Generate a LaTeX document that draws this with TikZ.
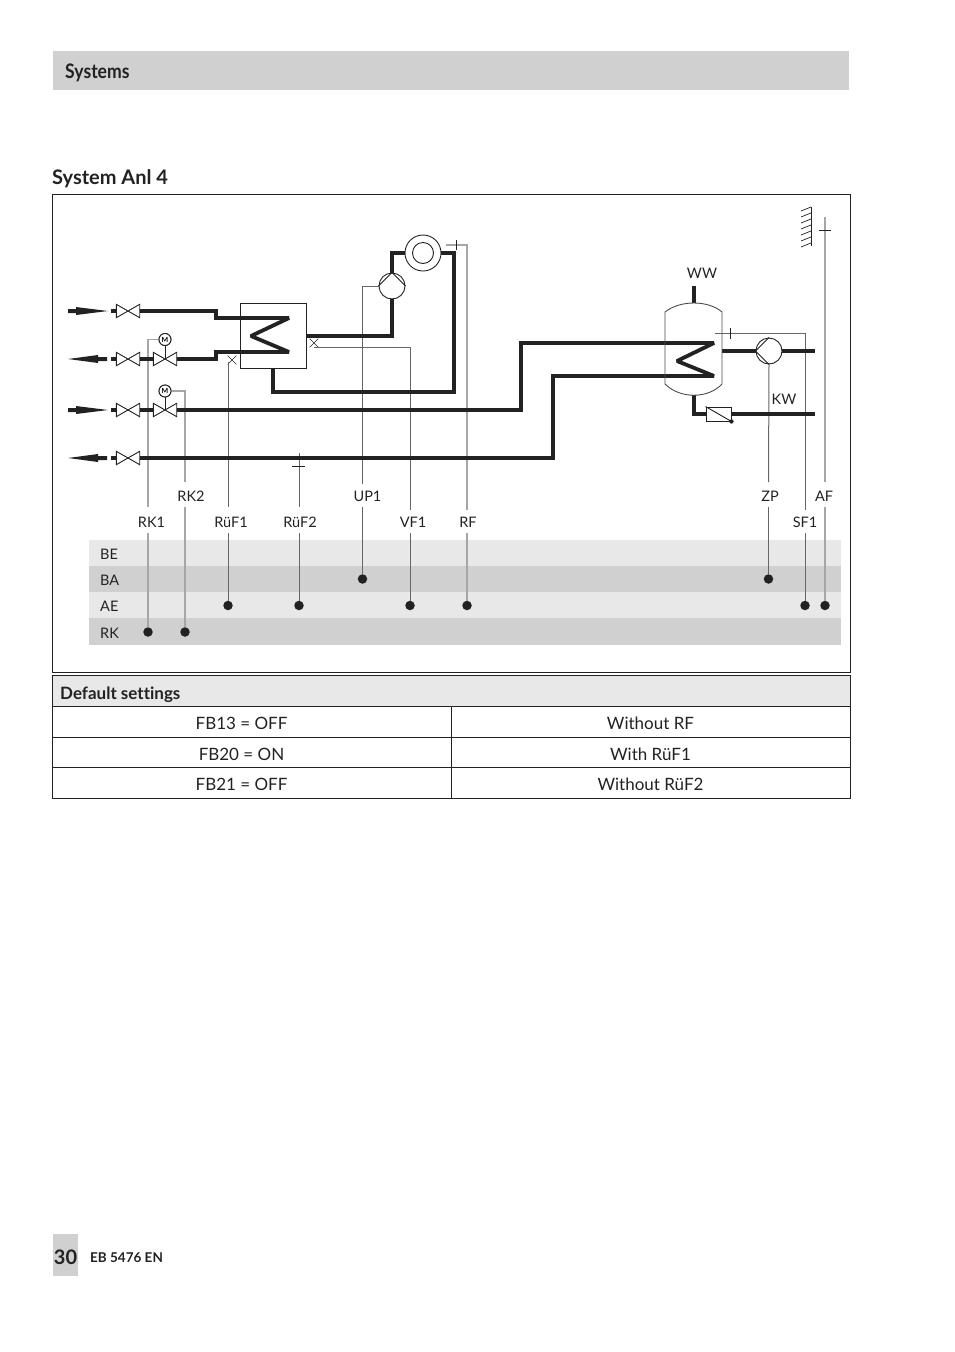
\documentclass[tikz,border=0pt]{standalone}
\usepackage{fontspec}
\usepackage{tikz}
\usetikzlibrary{positioning,shapes.misc}
\setmainfont[Ligatures=NoCommon]{Lato}
\newfontfamily\narrowfont[FakeStretch=0.88]{Lato}
\definecolor{bandlight}{HTML}{E8E8E8}
\definecolor{banddark}{HTML}{D0D0D0}
\definecolor{inkblack}{HTML}{222222}
\tikzset{
    pipe/.style = {line width=3.8pt, draw=inkblack, line join=miter, miter limit=2},
    sigdark/.style = {line width=1pt, draw=black!60},
    siglight/.style = {line width=1.4pt, draw=black!35},
    thin line/.style = {line width=.9pt, draw=inkblack},
    valve/.style = {minimum width=23pt, minimum height=13pt, inner sep=0pt},
    pump/.style = {circle, draw=inkblack, line width=.9pt, fill=white, minimum size=26pt, inner sep=0pt},
    motor/.style = {circle, draw=inkblack, line width=.9pt, fill=white, minimum size=12pt, inner sep=0pt,
        font=\fontsize{7}{7}\selectfont\bfseries},
    xsensor/.style = {cross out, draw=inkblack, line width=.6pt, minimum size=8pt, inner sep=0pt},
    dot/.style = {circle, fill=inkblack, minimum size=9.5pt, inner sep=0pt},
    tag/.style = {font=\fontsize{14.5}{14.5}\selectfont, text=inkblack, inner sep=0pt},
    band/.style = {minimum width=752pt, minimum height=26.4pt, inner sep=0pt, anchor=west},
    cell/.style = {draw=inkblack, line width=1pt, minimum height=30.5pt, inner sep=0pt},
    celltext/.style = {font=\fontsize{17}{17}\selectfont, text=inkblack, inner sep=0pt,
        text height=13pt, text depth=4pt},
    head/.style = {font=\fontsize{20}{20}\selectfont\bfseries, text=inkblack, inner sep=0pt, anchor=west},
}
\begin{document}
\begin{tikzpicture}[x=1pt, y=-1pt]
    \useasboundingbox (0,0) rectangle (954,1352);
    % page furniture
    \node (topbar) [fill=banddark, minimum width=796pt, minimum height=39pt, inner sep=0pt] at (451,70.5) {};
    \node (toptext) [head, font=\fontsize{20}{20}\narrowfont\bfseries] at (65,73) {Systems};
    \node (title) [head] at (52,179) {System Anl 4};
    \node (frame) [draw=inkblack, line width=1pt, minimum width=798pt, minimum height=478pt, inner sep=0pt] at (451.5,433) {};
    \node (numbox) [fill=banddark, minimum width=25pt, minimum height=42pt, inner sep=0pt] at (65.5,1255) {};
    \node (numtext) [font=\fontsize{20}{20}\selectfont\bfseries, text=inkblack, inner sep=0pt] at (65.5,1257) {30};
    \node (doctext) [font=\fontsize{13.5}{14}\selectfont\bfseries, text=inkblack, inner sep=0pt, anchor=west] at (90,1258) {EB 5476 EN};

    % bands
    \node (bandBE) [band, fill=bandlight] at (89,553) {};
    \node (bandBA) [band, fill=banddark] at (89,579) {};
    \node (bandAE) [band, fill=bandlight] at (89,605) {};
    \node (bandRK) [band, fill=banddark] at (89,631.5) {};
    \foreach \name/\ypos in {BE/554.5, BA/580.5, AE/606.5, RK/633}
        \node (tag\name) [tag, anchor=west] at (100,\ypos) {\name};

    % labels
    \node (lblRKa) [tag] at (151.5,522) {RK1};
    \node (lblRKb) [tag] at (191,496) {RK2};
    \node (lblRUa) [tag] at (231,522) {RüF1};
    \node (lblRUb) [tag] at (300,522) {RüF2};
    \node (lblUP) [tag] at (367.5,496) {UP1};
    \node (lblVF) [tag] at (413,522) {VF1};
    \node (lblRF) [tag] at (468,522) {RF};
    \node (lblZP) [tag] at (770,496) {ZP};
    \node (lblSF) [tag] at (805,522) {SF1};
    \node (lblAF) [tag] at (824,496) {AF};
    \node (lblWW) [tag] at (702,273) {WW};
    \node (lblKW) [tag] at (784,399) {KW};

    % dots
    \node (dotRKa) [dot] at (148,632) {};
    \node (dotRKb) [dot] at (185,632) {};
    \node (dotRUa) [dot] at (228,605.5) {};
    \node (dotRUb) [dot] at (299,605.5) {};
    \node (dotUP) [dot] at (362.5,579) {};
    \node (dotVF) [dot] at (410,605.5) {};
    \node (dotRF) [dot] at (467,605.5) {};
    \node (dotZP) [dot] at (768.5,579) {};
    \node (dotSF) [dot] at (805,605.5) {};
    \node (dotAF) [dot] at (825,605.5) {};

    % valves, motors, pumps
    \node (valveA) [valve] at (128,311) {};
    \node (valveB) [valve] at (128,359) {};
    \node (valveC) [valve] at (128,410) {};
    \node (valveD) [valve] at (128,458) {};
    \node (valveE) [valve] at (165,359) {};
    \node (valveF) [valve] at (165,410) {};
    \node (motorE) [motor] at (165,339.5) {M};
    \node (motorF) [motor] at (165,391) {M};
    \node (pumpUP) [pump] at (392,286) {};
    \node (pumpZP) [pump] at (769,351) {};
    \node (boiler) [circle, draw=inkblack, line width=.9pt, fill=white, minimum size=36pt, inner sep=0pt] at (423,253) {};
    \node (boilerin) [circle, draw=inkblack, line width=.9pt, minimum size=21pt, inner sep=0pt] at (423,253) {};
    \node (hxbox) [draw=inkblack, line width=.9pt, minimum width=66pt, minimum height=65pt, inner sep=0pt] at (273,335.5) {};
    \node (check) [draw=inkblack, line width=.9pt, fill=white, minimum width=25pt, minimum height=14pt, inner sep=0pt] at (718.5,414) {};
    \node (sensRUa) [xsensor] at (232,360) {};
    \node (sensVF) [xsensor] at (314,343) {};

    % signal lines
    \coordinate (upA) at (362.5,484);
    \coordinate (upB) at (362.5,507);
    \coordinate (rkaA) at (148,507);
    \coordinate (rkaB) at (148,533);
    \coordinate (rkbA) at (185,482);
    \coordinate (rkbB) at (185,507);
    \coordinate (ruaT) at (228,362);
    \coordinate (ruaA) at (228,507);
    \coordinate (ruaB) at (228,533);
    \coordinate (rubT) at (299,453);
    \coordinate (rubA) at (299,507);
    \coordinate (rubB) at (299,533);
    \coordinate (vfT) at (314,347);
    \coordinate (vfA) at (410,510);
    \coordinate (vfB) at (410,533);
    \coordinate (rfT) at (446,245);
    \coordinate (rfA) at (467,510);
    \coordinate (rfB) at (467,533);
    \coordinate (zpA) at (768.5,482);
    \coordinate (zpB) at (768.5,507);
    \coordinate (sfT) at (715,333);
    \coordinate (sfA) at (805,510);
    \coordinate (sfB) at (805,533);
    \coordinate (afT) at (825,217);
    \coordinate (afA) at (825,482);
    \coordinate (afB) at (825,507);
    \draw[siglight] (motorE.west) -| (rkaA);
    \draw[siglight] (rkaB) -- (dotRKa);
    \draw[siglight] (motorF.east) -| (rkbA);
    \draw[siglight] (rkbB) -- (dotRKb);
    \draw[sigdark] (ruaT) -- (ruaA);
    \draw[sigdark] (ruaB) -- (dotRUa);
    \draw[sigdark] (rubT) -- (rubA);
    \draw[sigdark] (rubB) -- (dotRUb);
    \draw[sigdark] (pumpUP.west) -| (upA);
    \draw[sigdark] (upB) -- (dotUP);
    \draw[sigdark] (vfT) -| (vfA);
    \draw[sigdark] (vfB) -- (dotVF);
    \draw[siglight] (rfT) -| (rfA);
    \draw[siglight] (rfB) -- (dotRF);
    \draw[sigdark] (pumpZP.south) -- (zpA);
    \draw[sigdark] (zpB) -- (dotZP);
    \draw[sigdark] (sfT) -| (sfA);
    \draw[sigdark] (sfB) -- (dotSF);
    \draw[siglight] (afT) -- (afA);
    \draw[siglight] (afB) -- (dotAF);

    % sensor bars
    \draw[sigdark, draw=inkblack] (292,466) -- (305,466);
    \draw[thin line] (456,240) -- (456,250);
    \draw[thin line] (730,328) -- (730,339);
    \draw[thin line] (819,230) -- (831,230);

    % pipes
    \coordinate (hxTopA) at (216,318);
    \coordinate (hxTip) at (289,318);
    \coordinate (hxIn) at (251,336);
    \coordinate (hxTipB) at (289,352);
    \coordinate (hxBotA) at (216,352);
    \draw[pipe] (valveA.east) -| (hxTopA) -- (hxTip) -- (hxIn) -- (hxTipB) -- (hxBotA) |- (valveE.east);
    \draw[pipe] (valveB.east) -- (valveE.west);
    \draw[pipe] (valveC.east) -- (valveF.west);
    \coordinate (riseA) at (521,410);
    \coordinate (riseB) at (553,458);
    \coordinate (wwTip) at (714,343);
    \coordinate (wwIn) at (677,361);
    \coordinate (wwTipB) at (714,376);
    \draw[pipe] (valveF.east) -- (riseA) |- (wwTip) -- (wwIn) -- (wwTipB) -| (riseB) -- (valveD.east);
    \coordinate (loopA) at (273,392);
    \coordinate (loopB) at (454,392);
    \draw[pipe] (hxbox.south) -- (loopA) -- (loopB) |- (boiler.east);
    \draw[pipe] (boiler.west) -| (pumpUP.north);
    \coordinate (hxOut) at (306,336);
    \draw[pipe] (pumpUP.south) |- (hxOut);
    \coordinate (tankTop) at (694,303);
    \coordinate (wwEnd) at (694,286);
    \coordinate (tankBot) at (694,395);
    \coordinate (tankR) at (722,351);
    \coordinate (zpEnd) at (815,351);
    \coordinate (kwEnd) at (815,414);
    \draw[pipe] (tankTop) -- (wwEnd);
    \draw[pipe] (tankBot) |- (check.west);
    \draw[pipe] (check.east) -- (kwEnd);
    \draw[pipe] (tankR) -- (pumpZP.west);
    \draw[pipe] (pumpZP.east) -- (zpEnd);

    % inlet arrows
    \foreach \ypos/\name in {311/A, 359/B, 410/C, 458/D} {
        \coordinate (stub\name) at (111,\ypos);
        \draw[pipe] (stub\name) -- (valve\name.west);
    }
    \fill[inkblack] (68,309) -- (76,309) -- (76,307) -- (108,311) -- (76,315) -- (76,313) -- (68,313) -- cycle;
    \fill[inkblack] (68,359) -- (98,355) -- (98,357) -- (107,357) -- (107,361) -- (98,361) -- (98,363) -- cycle;
    \fill[inkblack] (68,408) -- (76,408) -- (76,406) -- (108,410) -- (76,414) -- (76,412) -- (68,412) -- cycle;
    \fill[inkblack] (68,458) -- (98,454) -- (98,456) -- (107,456) -- (107,460) -- (98,460) -- (98,462) -- cycle;

    % redraw symbols on top of pipes
    \foreach \name in {A,B,C,D,E,F}
        \draw[thin line, fill=white, line join=miter] (valve\name.north west) -- (valve\name.south east)
            -- (valve\name.north east) -- (valve\name.south west) -- cycle;
    \draw[sigdark, draw=inkblack] (motorE) -- (valveE.center);
    \draw[sigdark, draw=inkblack] (motorF) -- (valveF.center);
    \draw[line width=.9pt, draw=black!70] (665,312) .. controls (680,300) and (708,300) .. (722,312) -- (722,384)
        .. controls (708,399) and (680,399) .. (665,384) -- cycle;
    \draw[thin line] (pumpUP.west) -- (pumpUP.north) -- (pumpUP.east);
    \draw[thin line] (pumpZP.north) -- (pumpZP.west) -- (pumpZP.south);
    \draw[thin line] (check.north west) -- (check.south east);
    \fill[inkblack] (check.south east) circle (2.2);
    \node (motorEtop) [motor] at (motorE) {M};
    \node (motorFtop) [motor] at (motorF) {M};

    % wall
    \draw[thin line] (811,207) -- (811,246);
    \foreach \ypos in {207,213,219,225,231,237,243}
        \draw[line width=.7pt, draw=inkblack] (811,\ypos) -- (801,\ypos+4);

    % table
    \node (tabhead) [cell, fill=bandlight, minimum width=798pt] at (451.5,691) {};
    \node (tabtext) [celltext, anchor=west, font=\fontsize{17}{17}\selectfont\bfseries] at (60,694.5) {Default settings};
    \node (rowAl) [cell, minimum width=399pt] at (251.5,722) {};
    \node (rowAr) [cell, minimum width=399pt] at (650.5,722) {};
    \node (rowBl) [cell, minimum width=399pt] at (251.5,752.5) {};
    \node (rowBr) [cell, minimum width=399pt] at (650.5,752.5) {};
    \node (rowCl) [cell, minimum width=399pt] at (251.5,783) {};
    \node (rowCr) [cell, minimum width=399pt] at (650.5,783) {};
    \node (txtAl) [celltext, xshift=-10pt, yshift=-3pt] at (rowAl) {FB13 = OFF};
    \node (txtAr) [celltext, yshift=-3pt] at (rowAr) {Without RF};
    \node (txtBl) [celltext, xshift=-10pt, yshift=-3pt] at (rowBl) {FB20 = ON};
    \node (txtBr) [celltext, yshift=-3pt] at (rowBr) {With RüF1};
    \node (txtCl) [celltext, xshift=-10pt, yshift=-3pt] at (rowCl) {FB21 = OFF};
    \node (txtCr) [celltext, yshift=-3pt] at (rowCr) {Without RüF2};
\end{tikzpicture}
\end{document}
